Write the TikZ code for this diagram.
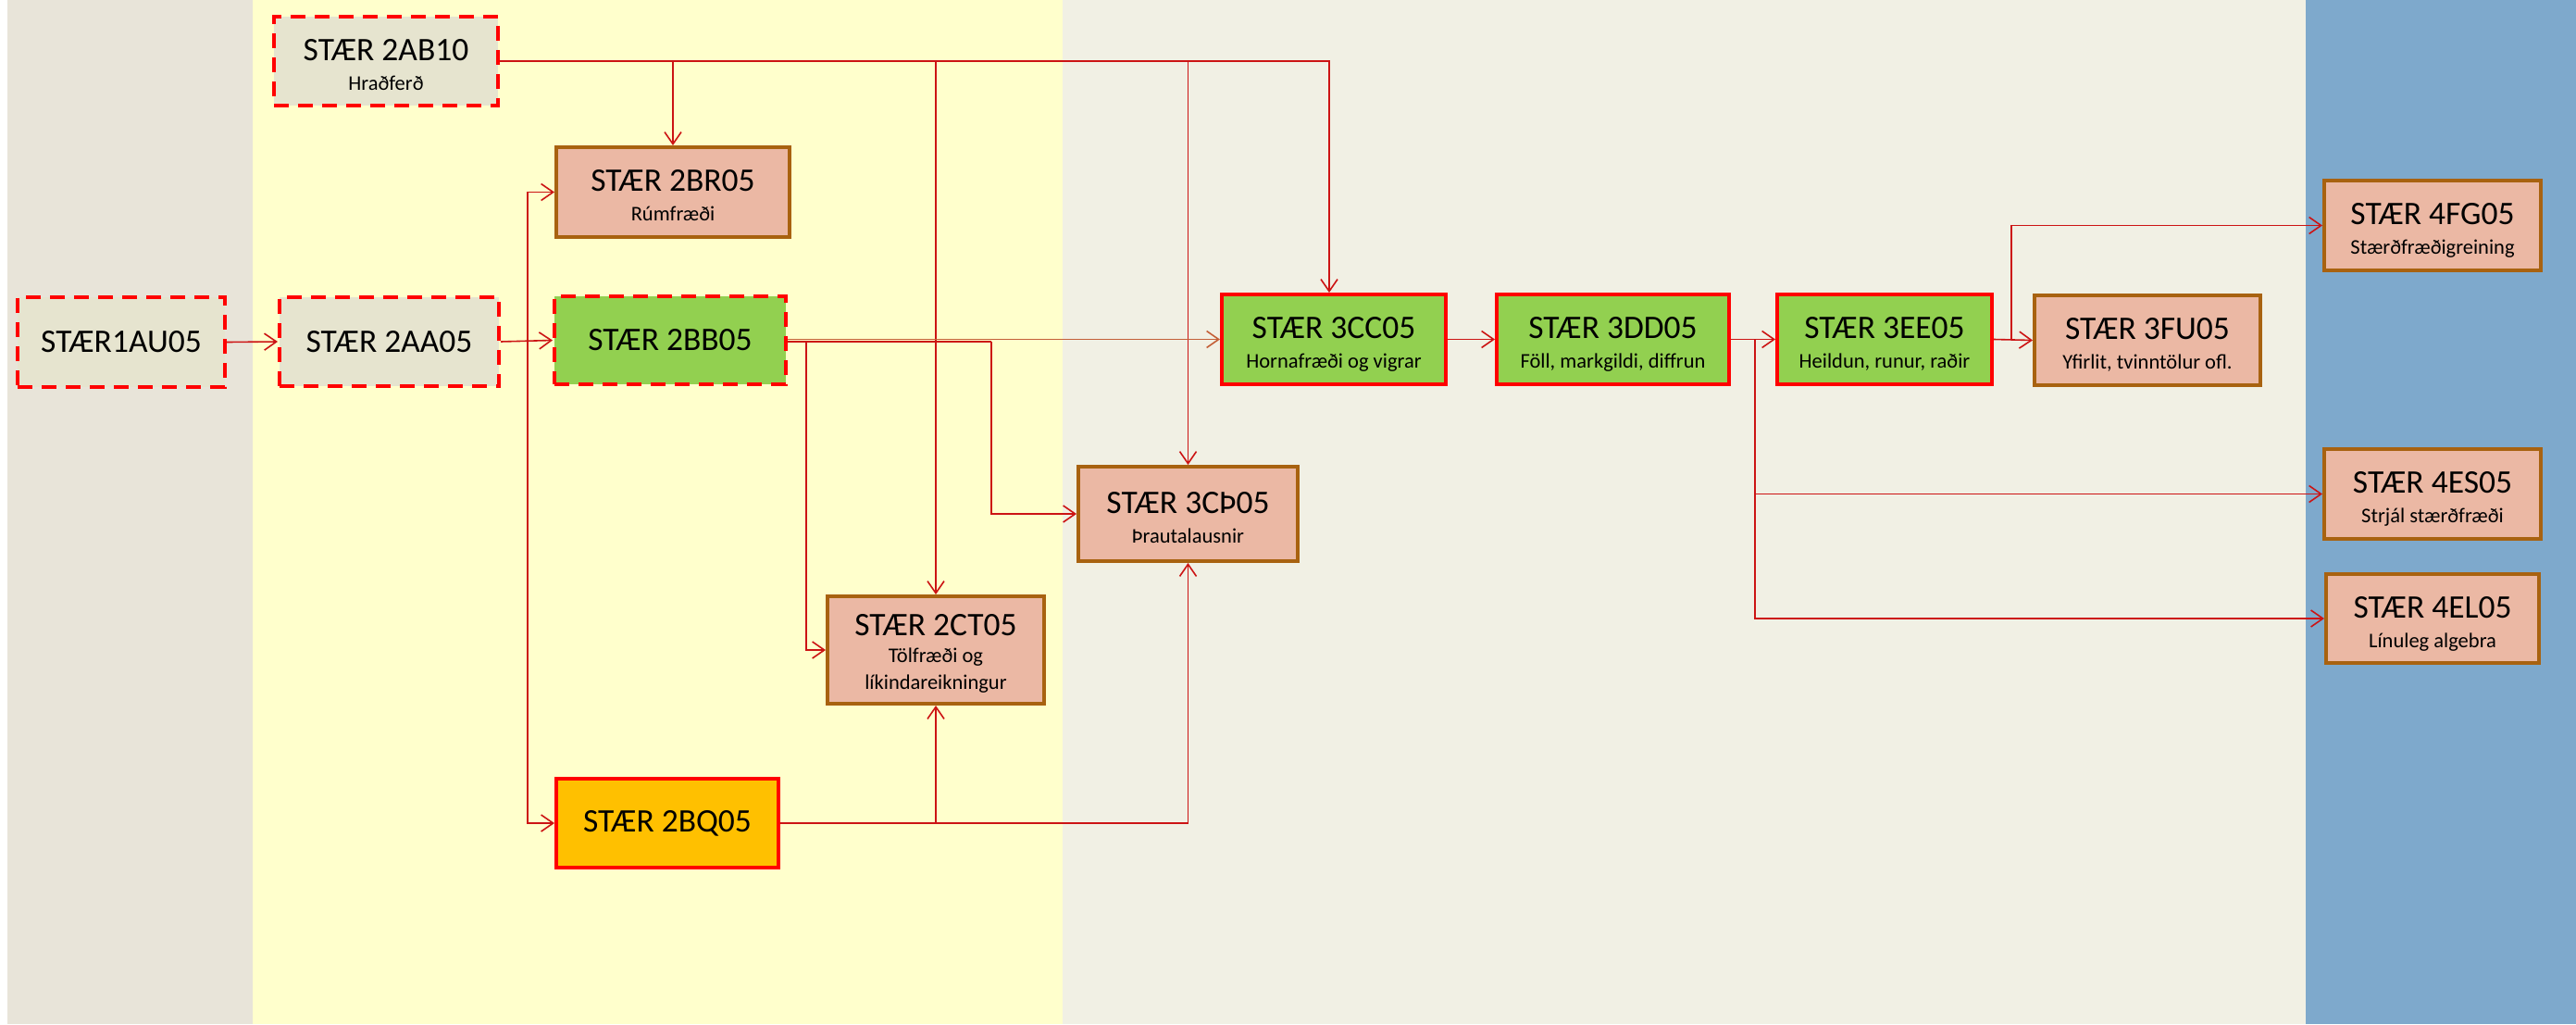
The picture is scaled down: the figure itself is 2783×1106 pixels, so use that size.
\documentclass[tikz,border=0pt]{standalone}
\usepackage{fontspec}
\setmainfont{Carlito}
\usetikzlibrary{arrows.meta}
\definecolor{bandgray}{RGB}{232,228,217}
\definecolor{bandyellow}{RGB}{255,255,204}
\definecolor{bandlight}{RGB}{241,240,228}
\definecolor{bandblue}{RGB}{126,169,204}
\definecolor{dashfill}{RGB}{230,228,207}
\definecolor{greenf}{RGB}{146,208,80}
\definecolor{salmonf}{RGB}{235,184,164}
\definecolor{brownb}{RGB}{168,98,16}
\definecolor{orangef}{RGB}{255,192,0}
\definecolor{boxred}{RGB}{255,0,0}
\definecolor{conred}{RGB}{204,20,20}
\definecolor{conorange}{RGB}{196,96,56}
\newcommand\mainname[1]{{\fontsize{35.5}{35.5}\selectfont #1}}
\newcommand\topstrut[1]{\rule{0pt}{#1}}
\newcommand\botstrut{\rule[-7pt]{0pt}{7pt}}
\begin{document}
\begin{tikzpicture}[x=1pt,y=-1pt,
  box/.style={rectangle, inner sep=0pt, align=center, text=black,
    font=\fontsize{22.5}{32}\selectfont, line width=4pt},
  dashbox/.style={box, draw=boxred, fill=dashfill, dash pattern=on 16pt off 10pt},
  greendash/.style={dashbox, fill=greenf},
  salmonbox/.style={box, draw=brownb, fill=salmonf},
  greenbox/.style={box, draw=boxred, fill=greenf},
  orangebox/.style={box, draw=boxred, fill=orangef},
  conn/.style={draw=conred, line width=1.6pt, -{Straight Barb[length=13pt,width=18pt,line width=1.6pt]}},
  line/.style={draw=conred, line width=1.6pt}
]
\useasboundingbox (0,0) rectangle (2783,1106);
% background bands
\fill[white] (0,0) rectangle (2783,1106);
\fill[bandgray] (8,0) rectangle (273,1106);
\fill[bandyellow] (273,0) rectangle (1148,1106);
\fill[bandlight] (1148,0) rectangle (2491,1106);
\fill[bandblue] (2491,0) rectangle (2783,1106);

% nodes
\node[dashbox, minimum width=224pt, minimum height=97pt] (AU) at (131,369.5) {\mainname{STÆR1AU05}};
\node[dashbox, minimum width=237pt, minimum height=96pt] (AA) at (420.5,369) {\mainname{STÆR 2AA05}};
\node[dashbox, minimum width=242pt, minimum height=96pt] (AB) at (417,66) {\topstrut{37pt}\mainname{STÆR 2AB10}\\Hraðferð\botstrut};
\node[salmonbox, minimum width=252pt, minimum height=97pt] (BR) at (727,207.5) {\topstrut{37pt}\mainname{STÆR 2BR05}\\Rúmfræði\botstrut};
\node[greendash, minimum width=250pt, minimum height=95pt] (BB) at (724,367.5) {\mainname{STÆR 2BB05}};
\node[orangebox, minimum width=240pt, minimum height=96pt] (BQ) at (721,889) {\mainname{STÆR 2BQ05}};
\node[salmonbox, minimum width=234pt, minimum height=116pt, font=\fontsize{22.5}{29}\selectfont] (CT) at (1011,702) {\topstrut{33pt}\mainname{STÆR 2CT05}\\Tölfræði og\\líkindareikningur\botstrut};
\node[salmonbox, minimum width=237pt, minimum height=102pt] (CP) at (1283.5,555) {\topstrut{37pt}\mainname{STÆR 3CÞ05}\\Þrautalausnir\botstrut};
\node[greenbox, minimum width=242pt, minimum height=97pt] (CC) at (1441,366.5) {\topstrut{37pt}\mainname{STÆR 3CC05}\\Hornafræði og vigrar\botstrut};
\node[greenbox, minimum width=251pt, minimum height=97pt] (DD) at (1742.5,366.5) {\topstrut{37pt}\mainname{STÆR 3DD05}\\Föll, markgildi, diffrun\botstrut};
\node[greenbox, minimum width=232pt, minimum height=97pt] (EE) at (2036,366.5) {\topstrut{37pt}\mainname{STÆR 3EE05}\\Heildun, runur, raðir\botstrut};
\node[salmonbox, minimum width=244pt, minimum height=97pt] (FU) at (2320,367.5) {\topstrut{37pt}\mainname{STÆR 3FU05}\\Yfirlit, tvinntölur ofl.\botstrut};
\node[salmonbox, minimum width=234pt, minimum height=97pt] (FG) at (2628,243.5) {\topstrut{37pt}\mainname{STÆR 4FG05}\\Stærðfræðigreining\botstrut};
\node[salmonbox, minimum width=234pt, minimum height=97pt] (ES) at (2628,533.5) {\topstrut{37pt}\mainname{STÆR 4ES05}\\Strjál stærðfræði\botstrut};
\node[salmonbox, minimum width=230pt, minimum height=96pt] (EL) at (2628,668) {\topstrut{37pt}\mainname{STÆR 4EL05}\\Línuleg algebra\botstrut};

% junction coordinates
\coordinate (jA) at (570,369);
\coordinate (jB1) at (871,369);
\coordinate (jB2) at (1071,369);
\coordinate (jD) at (1896,366.5);
\coordinate (jE) at (2173,366.5);
\coordinate (ccin) at ([xshift=-5pt]CC.north);

% connectors
\draw[conn] (AU.east) -- (AA.west);
\draw[conn] (AA.east) -- (BB.west);
\draw[conn] (jA) |- (BR.west);
\draw[conn] (jA) |- (BQ.west);

\draw[conn] (AB.east) -| (ccin);
\draw[conn] (AB.east -| BR.north) -- (BR.north);
\draw[conn] (AB.east -| CT.north) -- (CT.north);
\draw[conn] (AB.east -| CP.north) -- (CP.north);

\draw[conn, draw=conorange] (BB.east |- CC.west) -- (CC.west);
\draw[line] (BB.east |- jB2) -- (jB2);
\draw[conn] (jB1) |- (CT.west);
\draw[conn] (jB2) |- (CP.west);

\draw[conn] (BQ.east) -| (CP.south);
\draw[conn] (BQ.east -| CT.south) -- (CT.south);

\draw[conn] (CC.east) -- (DD.west);
\draw[conn] (DD.east) -- (EE.west);
\draw[conn] (jD) |- (ES.west);
\draw[conn] (jD) |- (EL.west);
\draw[conn] (EE.east) -- (FU.west);
\draw[conn] (jE) |- (FG.west);
\end{tikzpicture}
\end{document}
